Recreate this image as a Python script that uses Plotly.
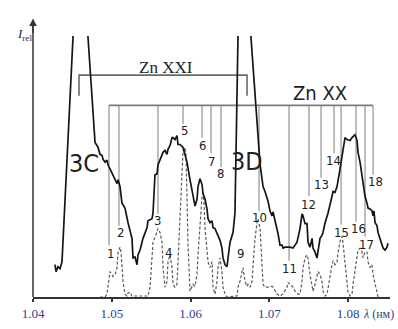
import plotly.graph_objects as go

# ---- experimental spectrum (solid) ----
exp_lam = [1.04279, 1.04292, 1.04317, 1.04343, 1.04368, 1.04588, 1.04761, 1.04787, 1.04812, 1.04825,
           1.04850, 1.04876, 1.04888, 1.04914, 1.04939, 1.04952, 1.04977, 1.05015, 1.05041, 1.05066,
           1.05079, 1.05104, 1.05129, 1.05167, 1.05206, 1.05256, 1.05269, 1.05294, 1.05320, 1.05332,
           1.05358, 1.05396, 1.05447, 1.05459, 1.05510, 1.05523, 1.05548, 1.05574, 1.05586, 1.05612,
           1.05637, 1.05650, 1.05675, 1.05700, 1.05713, 1.05739, 1.05764, 1.05777, 1.05802, 1.05827,
           1.05840, 1.05865, 1.05904, 1.05929, 1.05954, 1.05992, 1.06030, 1.06056, 1.06081, 1.06094,
           1.06119, 1.06145, 1.06157, 1.06183, 1.06208, 1.06221, 1.06246, 1.06272, 1.06284, 1.06310,
           1.06335, 1.06348, 1.06373, 1.06398, 1.06411, 1.06437, 1.06462, 1.06475, 1.06500, 1.06538,
           1.06563, 1.06633, 1.06881, 1.06919, 1.06944, 1.06982, 1.07008, 1.07033, 1.07046, 1.07071,
           1.07109, 1.07134, 1.07160, 1.07173, 1.07198, 1.07223, 1.07261, 1.07299, 1.07350, 1.07388,
           1.07414, 1.07426, 1.07452, 1.07477, 1.07490, 1.07515, 1.07541, 1.07553, 1.07579, 1.07604,
           1.07617, 1.07642, 1.07667, 1.07680, 1.07706, 1.07744, 1.07794, 1.07807, 1.07832, 1.07858,
           1.07896, 1.07921, 1.07934, 1.07959, 1.07985, 1.08023, 1.08048, 1.08086, 1.08112, 1.08124,
           1.08150, 1.08175, 1.08188, 1.08213, 1.08238, 1.08251, 1.08277, 1.08302, 1.08315, 1.08327,
           1.08340, 1.08365, 1.08378, 1.08403, 1.08429, 1.08442, 1.08467, 1.08492, 1.08505]
exp_int = [33, 26, 31, 29, 36, 398, 190, 158, 155, 153,
           146, 145, 141, 138, 140, 135, 131, 125, 120, 116,
           120, 113, 96, 91, 76, 60, 40, 41, 33, 43,
           48, 60, 71, 78, 80, 86, 125, 126, 135, 140,
           145, 148, 150, 146, 151, 155, 163, 163, 161, 165,
           156, 156, 153, 145, 138, 120, 103, 93, 100, 113,
           121, 115, 106, 100, 90, 80, 76, 78, 71, 70,
           65, 63, 58, 50, 40, 33, 31, 40, 56, 66,
           86, 415, 136, 113, 108, 98, 88, 83, 87, 78,
           65, 53, 53, 50, 51, 51, 51, 50, 56, 70,
           85, 83, 75, 75, 56, 51, 60, 50, 46, 40,
           46, 60, 63, 66, 76, 86, 103, 108, 107, 113,
           131, 143, 150, 163, 161, 160, 163, 166, 160, 148,
           138, 123, 113, 103, 96, 91, 90, 88, 83, 88,
           76, 73, 66, 60, 53, 50, 48, 51, 55]

# ---- theoretical spectrum (dashed) ----
th_lam = [1.04850, 1.04914, 1.04939, 1.04952, 1.04977, 1.05003, 1.05015, 1.05041, 1.05066, 1.05079,
          1.05104, 1.05117, 1.05129, 1.05142, 1.05167, 1.05193, 1.05206, 1.05231, 1.05256, 1.05459,
          1.05485, 1.05510, 1.05523, 1.05548, 1.05574, 1.05586, 1.05612, 1.05637, 1.05650, 1.05675,
          1.05700, 1.05713, 1.05739, 1.05764, 1.05777, 1.05802, 1.05827, 1.05840, 1.05865, 1.05891,
          1.05904, 1.05929, 1.05942, 1.05954, 1.05967, 1.05992, 1.06018, 1.06030, 1.06056, 1.06081,
          1.06094, 1.06119, 1.06145, 1.06157, 1.06170, 1.06183, 1.06208, 1.06221, 1.06246, 1.06272,
          1.06284, 1.06310, 1.06335, 1.06348, 1.06373, 1.06398, 1.06411, 1.06437, 1.06462, 1.06589,
          1.06601, 1.06627, 1.06652, 1.06665, 1.06690, 1.06716, 1.06728, 1.06754, 1.06779, 1.06792,
          1.06817, 1.06843, 1.06855, 1.06881, 1.06906, 1.06919, 1.06944, 1.06982, 1.07033, 1.07046,
          1.07096, 1.07134, 1.07173, 1.07223, 1.07236, 1.07261, 1.07287, 1.07299, 1.07325, 1.07363,
          1.07388, 1.07414, 1.07426, 1.07452, 1.07477, 1.07490, 1.07515, 1.07541, 1.07553, 1.07579,
          1.07604, 1.07617, 1.07642, 1.07667, 1.07680, 1.07706, 1.07731, 1.07744, 1.07769, 1.07794,
          1.07807, 1.07832, 1.07858, 1.07870, 1.07896, 1.07921, 1.07934, 1.07959, 1.07985, 1.07997,
          1.08023, 1.08048, 1.08061, 1.08086, 1.08112, 1.08124, 1.08150, 1.08175, 1.08188, 1.08213,
          1.08238, 1.08251, 1.08277, 1.08302, 1.08315, 1.08340, 1.08365, 1.08378]
th_int = [0, 0, 3, 13, 26, 23, 21, 23, 30, 46,
          51, 46, 33, 16, 3, 1, 4, 5, 1, 1,
          10, 36, 56, 61, 66, 70, 66, 56, 30, 10,
          16, 36, 43, 30, 13, 10, 13, 36, 86, 130,
          150, 153, 145, 103, 53, 6, 10, 13, 11, 23,
          43, 76, 103, 106, 98, 70, 43, 36, 30, 36,
          10, 3, 16, 30, 40, 26, 10, 3, 0, 1,
          10, 16, 26, 30, 16, 11, 13, 10, 16, 36,
          60, 76, 80, 70, 36, 13, 10, 10, 11, 10,
          3, 1, 3, 10, 15, 13, 11, 10, 6, 3,
          3, 16, 30, 40, 43, 40, 23, 10, 6, 13,
          21, 26, 23, 16, 6, 1, 3, 10, 23, 33,
          37, 33, 36, 45, 57, 62, 55, 35, 16, 5,
          1, 3, 13, 27, 40, 48, 50, 46, 40, 46,
          46, 36, 30, 33, 23, 13, 3, 0]

# ---- Zn XX line identification ----
zn20_lam = [1.04964, 1.05091, 1.05586, 1.05904, 1.06145, 1.06259, 1.06386, 1.06868,
            1.07249, 1.07502, 1.07655, 1.07820, 1.07909, 1.08099, 1.08213, 1.08315]
zn20_end = [53, 73, 85, 177, 163, 147, 133, 88, 37, 103, 122, 147, 74, 77, 62, 125]
zn20_level = 196

# ---- Zn XXI (3C, 3D) ----
zn21_lam = [1.04584, 1.06716]
zn21_names = ["3C", "3D"]
zn21_name_lam = [1.04647, 1.06716]
zn21_name_int = [137, 139]
zn21_level = 227
zn21_end = 206

# ---- line numbers ----
num_text = [str(i) for i in range(1, 19)]
num_lam = [1.04977, 1.05104, 1.05586, 1.05713, 1.05916, 1.06157, 1.06259, 1.06373, 1.06627,
           1.06868, 1.07249, 1.07490, 1.07655, 1.07807, 1.07909, 1.08124, 1.08226, 1.08340]
num_int = [44, 66, 78, 46, 170, 155, 139, 126, 44, 81, 29, 95, 115, 140, 66, 70, 54, 118]

tick_vals = [1.04, 1.05, 1.06, 1.07, 1.08]
tick_text = ["1.04", "1.05", "1.06", "1.07", "1.08"]

NARROW = "Liberation Sans Narrow, DejaVu Sans Condensed, Roboto Condensed, Liberation Sans, sans-serif"
SERIF = "Liberation Serif, DejaVu Serif, serif"

fig = go.Figure()

# Zn XX bracket + verticals
bx, by = [zn20_lam[0], zn20_lam[-1]], [zn20_level, zn20_level]
vx, vy = [], []
for lam, end in zip(zn20_lam, zn20_end):
    vx += [lam, lam, None]
    vy += [zn20_level, end, None]
fig.add_trace(go.Scatter(x=vx, y=vy, mode="lines", line=dict(color="#8a8a8a", width=1.1),
                         hoverinfo="skip"))
fig.add_trace(go.Scatter(x=bx, y=by, mode="lines", line=dict(color="#7a7a7a", width=1.8),
                         hoverinfo="skip"))

# Zn XXI bracket
fig.add_trace(go.Scatter(x=[zn21_lam[0], zn21_lam[0], zn21_lam[1], zn21_lam[1]],
                         y=[zn21_end, zn21_level, zn21_level, zn21_end],
                         mode="lines", line=dict(color="#6a6a6a", width=1.6), hoverinfo="skip"))

# theoretical (dashed)
fig.add_trace(go.Scatter(x=th_lam, y=th_int, mode="lines",
                         line=dict(color="#5a5a5a", width=1.2, dash="3px,2px")))
# experimental (solid)
fig.add_trace(go.Scatter(x=exp_lam, y=exp_int, mode="lines",
                         line=dict(color="#151515", width=1.7)))

ann = []
for t, lx, ly in zip(num_text, num_lam, num_int):
    ann.append(dict(x=lx, y=ly, text=t, showarrow=False, xanchor="center", yanchor="middle",
                    font=dict(family=NARROW, size=13, color="#222")))
for t, lx, ly in zip(zn21_names, zn21_name_lam, zn21_name_int):
    ann.append(dict(x=lx, y=ly, text=t, showarrow=False,
                    font=dict(family=NARROW, size=25, color="#222")))
# ion labels
ann.append(dict(x=1.05688, y=235, text="Zn XXI", showarrow=False,
                font=dict(family=SERIF, size=17, color="#222")))
ann.append(dict(x=1.07642, y=209, text="Zn XX", showarrow=False,
                font=dict(family=NARROW, size=20, color="#222")))
# axis titles
ann.append(dict(xref="paper", yref="paper", x=-0.05, y=1.045, text="<i>I</i><sub>rel</sub>",
                showarrow=False, font=dict(family=SERIF, size=13, color="#2a2a50")))
ann.append(dict(xref="paper", yref="paper", x=0.919, y=-0.064, text="<i>λ</i> (нм)",
                showarrow=False, xanchor="left", yanchor="middle",
                font=dict(family=SERIF, size=12, color="#2b3f8c")))
# y-axis arrow head
ann.append(dict(xref="paper", yref="paper", x=0, y=1.067, ax=0, ay=16, text="",
                showarrow=True, arrowhead=2, arrowsize=1, arrowwidth=1.5, arrowcolor="#333"))

fig.update_layout(
    width=398, height=329,
    margin=dict(l=33, r=8, t=36, b=26, pad=0),
    paper_bgcolor="white", plot_bgcolor="white",
    showlegend=False,
    annotations=ann,
    shapes=[dict(type="line", xref="paper", yref="paper", x0=0, x1=0, y0=0, y1=1.05,
                 line=dict(color="#333", width=1.5))],
    xaxis=dict(range=[1.04, 1.0853], showgrid=False, zeroline=False, showline=True,
               linecolor="#333", linewidth=2, ticks="outside", ticklen=3, tickwidth=1.5,
               tickcolor="#333", tickvals=tick_vals, ticktext=tick_text,
               tickfont=dict(family=SERIF, size=13, color="#2b3f8c")),
    yaxis=dict(range=[0, 267], visible=False),
)

fig.write_html("out.html")
